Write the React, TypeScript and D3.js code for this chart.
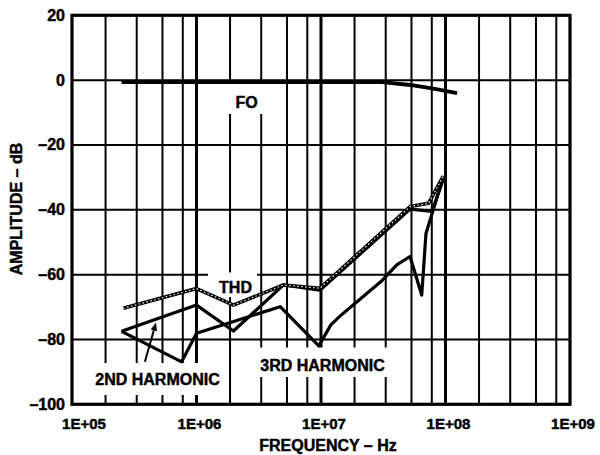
import React from 'react';
import * as d3 from 'd3';

// ---- data ----
const yTickValues = [20, 0, -20, -40, -60, -80, -100];
const yTickLabels = ['20', '0', '–20', '–40', '–60', '–80', '–100'];
const xDecades = [1e5, 1e6, 1e7, 1e8, 1e9];
const xTickLabels = ['1E+05', '1E+06', '1E+07', '1E+08', '1E+09'];
const minorSteps = [1.86, 3.31, 5.33, 7.76];

const foFreq = [2.5e5, 3.1e7, 5.2e7, 8.0e7, 1.24e8];
const foDb = [-0.6, -0.6, -1.5, -2.6, -4.0];

const thdFreq = [2.58e5, 1.0e6, 1.98e6, 4.98e6, 9.8e6, 5.2e7, 7.3e7, 9.6e7];
const thdDb = [-70.4, -64.3, -69.4, -63.2, -64.2, -39.0, -38.0, -29.6];

const h2Freq = [2.5e5, 1.0e6, 1.98e6, 4.98e6, 9.8e6, 5.2e7, 7.8e7, 9.6e7];
const h2Db = [-77.5, -69.4, -77.4, -63.2, -64.8, -39.8, -40.5, -30.5];

const h3Freq = [2.5e5, 7.6e5, 1.0e6, 4.7e6, 9.6e6, 1.2e7, 1.42e7, 2.0e7, 3.1e7, 4.06e7, 5.19e7, 6.44e7, 6.97e7, 7.74e7, 9.6e7];
const h3Db = [-77.5, -86.9, -78.1, -69.9, -82.0, -75.5, -72.8, -68.0, -61.8, -57.0, -54.4, -66.3, -47.3, -41.6, -29.8];

// arrow annotation (2ND HARMONIC pointer)
const arrowFreq = [3.85e5, 4.73e5];
const arrowDb = [-86.9, -74.8];

const W = 600;
const H = 455;
const FONT = "'Liberation Sans', Arial, Helvetica, sans-serif";

export default function App() {
  const x = d3.scaleLog().domain([1e5, 1e9]).range([72, 570]);
  const y = d3.scaleLinear().domain([-100, 20]).range([404.3, 15.3]);

  const line = d3
    .line<[number, number]>()
    .x((d) => x(d[0]))
    .y((d) => y(d[1]));

  const zip = (f: number[], v: number[]) => f.map((ff, i) => [ff, v[i]] as [number, number]);

  const minor: number[] = [];
  xDecades.slice(0, -1).forEach((d) => minorSteps.forEach((m) => minor.push(d * m)));

  // arrow geometry
  const ax0 = x(arrowFreq[0]);
  const ay0 = y(arrowDb[0]);
  const ax1 = x(arrowFreq[1]);
  const ay1 = y(arrowDb[1]);
  const ang = Math.atan2(ay1 - ay0, ax1 - ax0);
  const hl = 8;
  const hw = 3.2;
  const bx = ax1 - hl * Math.cos(ang);
  const by = ay1 - hl * Math.sin(ang);
  const head = [
    [ax1, ay1],
    [bx + hw * Math.sin(ang), by - hw * Math.cos(ang)],
    [bx - hw * Math.sin(ang), by + hw * Math.cos(ang)],
  ]
    .map((p) => p.join(','))
    .join(' ');

  const textStroke = { stroke: '#000', strokeWidth: 0.45 };

  return (
    <svg
      width={W}
      height={H}
      style={{ position: 'absolute', left: 0, top: 0, background: '#fff' }}
      fontFamily={FONT}
      fontWeight="bold"
    >
      <rect x={0} y={0} width={W} height={H} fill="#fff" />
      {/* horizontal grid */}
      {yTickValues.slice(1, -1).map((v) => (
        <line key={'h' + v} x1={x(1e5)} x2={x(1e9)} y1={y(v)} y2={y(v)} stroke="#000" strokeWidth={2} />
      ))}
      {/* minor vertical grid */}
      {minor.map((f, i) => (
        <line key={'m' + i} x1={x(f)} x2={x(f)} y1={y(20)} y2={y(-100)} stroke="#000" strokeWidth={2} />
      ))}
      {/* decade vertical grid */}
      {xDecades.slice(1, -1).map((f) => (
        <line key={'d' + f} x1={x(f)} x2={x(f)} y1={y(20)} y2={y(-100)} stroke="#000" strokeWidth={3} />
      ))}
      {/* frame */}
      <rect
        x={x(1e5)}
        y={y(20)}
        width={x(1e9) - x(1e5)}
        height={y(-100) - y(20)}
        fill="none"
        stroke="#000"
        strokeWidth={3.2}
      />
      {/* label knock-outs */}
      <rect x={222} y={84} width={44} height={30} fill="#fff" />
      <rect x={208} y={272.5} width={49} height={24.5} fill="#fff" />
      <rect x={88} y={363} width={138} height={32} fill="#fff" />
      <rect x={254} y={347.5} width={138} height={29.5} fill="#fff" />

      {/* curves */}
      <path d={line(zip(foFreq, foDb)) || ''} fill="none" stroke="#000" strokeWidth={3.8} strokeLinejoin="round" />
      <path d={line(zip(h3Freq, h3Db)) || ''} fill="none" stroke="#000" strokeWidth={3.2} strokeLinejoin="round" />
      <path d={line(zip(h2Freq, h2Db)) || ''} fill="none" stroke="#000" strokeWidth={3.2} strokeLinejoin="round" />
      <path d={line(zip(thdFreq, thdDb)) || ''} fill="none" stroke="#000" strokeWidth={3.6} strokeLinejoin="round" />
      <path
        d={line(zip(thdFreq, thdDb)) || ''}
        fill="none"
        stroke="#fff"
        strokeWidth={1.2}
        strokeDasharray="1.5 2.5"
        strokeLinejoin="round"
      />

      {/* arrow */}
      <line x1={ax0} y1={ay0} x2={bx} y2={by} stroke="#000" strokeWidth={2} />
      <polygon points={head} fill="#000" />

      <g {...textStroke}>
        {/* in-plot labels */}
        <text x={246.5} y={107.5} fontSize={16} textAnchor="middle">FO</text>
        <text x={235.5} y={293} fontSize={16} textAnchor="middle">THD</text>
        <text x={157.5} y={384.5} fontSize={16} textAnchor="middle">2ND HARMONIC</text>
        <text x={322.5} y={370.5} fontSize={16} textAnchor="middle">3RD HARMONIC</text>

        {/* y tick labels */}
        {yTickValues.map((v, i) => (
          <text key={'yl' + v} x={65} y={y(v) + 5.5} fontSize={16} textAnchor="end">
            {yTickLabels[i]}
          </text>
        ))}
        {/* x tick labels */}
        {xDecades.map((f, i) => (
          <text key={'xl' + f} x={i === 0 ? x(f) + 12 : x(f) + 3} y={429} fontSize={15} textAnchor="middle">
            {xTickLabels[i]}
          </text>
        ))}
        {/* axis titles */}
        <text x={328} y={450.5} fontSize={16} textAnchor="middle">FREQUENCY – Hz</text>
        <text transform="translate(21.7,209) rotate(-90)" fontSize={16} textAnchor="middle">AMPLITUDE – dB</text>
      </g>
    </svg>
  );
}
